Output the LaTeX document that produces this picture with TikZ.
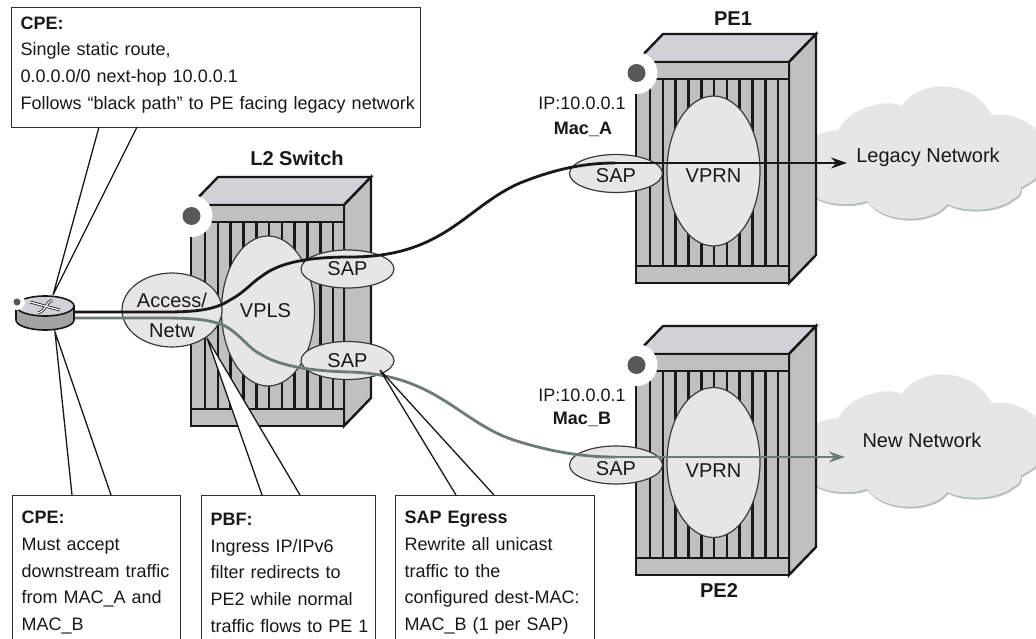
\documentclass[tikz,border=0pt]{standalone}
\usepackage{fontspec}
\setmainfont{Liberation Sans}
\usepackage{tikz}
\usetikzlibrary{shapes.geometric,arrows.meta}

\definecolor{inkc}{HTML}{1A1718}
\definecolor{greenpath}{HTML}{6D7B77}
\definecolor{topc}{HTML}{D2D2D6}
\definecolor{sidec}{HTML}{C0C0C0}
\definecolor{ovalc}{HTML}{E6E6E6}
\definecolor{dotc}{HTML}{58585A}
\definecolor{cloudrim}{HTML}{B8C0BC}

\tikzset{
    svc/.style={ellipse,draw=inkc!85,fill=ovalc,line width=1.2pt,inner sep=0pt,text=inkc,font=\fontsize{20}{30}\selectfont,align=center},
    sap/.style={svc,minimum width=93,minimum height=38},
    big/.style={svc,minimum width=93,minimum height=150},
    title/.style={text=inkc,font=\fontsize{20}{24}\selectfont\bfseries,inner sep=0pt},
    addr/.style={text=inkc,font=\fontsize{18}{22}\selectfont,inner sep=0pt},
    netname/.style={inner sep=0pt,text=inkc,font=\fontsize{20}{24}\selectfont},
    notebox/.style={draw=inkc!90,line width=1.3pt,fill=white,anchor=north west,inner sep=0pt,text=inkc,font=\fontsize{18}{26.7}\selectfont,
        execute at begin node={\leftskip=9pt\rightskip=0pt plus 1fill\parindent=0pt\hyphenpenalty=10000}},
    chassis/.pic={
        \draw[inkc,line width=2.4pt,fill=topc] (0,0) -- (27,-28) -- (180,-28) -- (153,0) -- cycle;
        \draw[inkc,line width=2.4pt,fill=sidec] (153,0) -- (180,-28) -- (180,193) -- (153,221) -- cycle;
        \draw[inkc,line width=2.4pt,fill=sidec] (0,0) rectangle (153,221);
        \foreach \i in {0,...,10}
            \draw[inkc,line width=2.6pt] ({14+12.8*\i},17) -- ({14+12.8*\i},204);
        \draw[inkc,line width=2.4pt] (0,17) -- (153,17);
        \draw[inkc,line width=2.4pt] (0,204) -- (153,204);
        \fill[white] (0.5,11) circle (21);
        \fill[dotc] (0.5,11) circle (9);
    },
    netcloud/.pic={
        \path[fill=#1,draw=#1,line width=1.2pt] (816,136) .. controls (823,133) and (831,131) .. (839,131)
            .. controls (845,112) and (885,97) .. (902,107)
            .. controls (920,78) and (975,80) .. (991,116)
            .. controls (1010,112) and (1032,122) .. (1045,140)
            .. controls (1050,160) and (1045,175) .. (1020,187)
            .. controls (1022,195) and (1013,198) .. (1013,198)
            .. controls (1000,210) and (965,213) .. (947,203)
            .. controls (935,222) and (885,225) .. (867,200)
            .. controls (855,205) and (830,205) .. (816,197) -- cycle;
    },
}

% white lead from a note box to what it points at
\newcommand{\notelead}[4]{
    \fill[white] (#1) -- (#2) -- (#3) -- ([yshift=#4]#3) -- ([yshift=#4]#1) -- cycle;
    \draw[inkc,line width=1.3pt] (#1) -- (#2) -- (#3);
}
% label set lower than the middle of its oval
\newcommand{\lowered}[2]{\raisebox{\dimexpr-7pt-#1pt\relax}[0pt][0pt]{#2}}

\begin{document}
\begin{tikzpicture}[x=1pt,y=-1pt]
    \clip (0,0) rectangle (1036,639);
    \fill[white] (0,0) rectangle (1036,639);

    % clouds
    \pic at (1,2) {netcloud=cloudrim};
    \pic at (0,0) {netcloud=ovalc};
    \pic at (1,290) {netcloud=cloudrim};
    \pic at (0,288) {netcloud=ovalc};
    \node[netname] (legacy) at (928,157) {Legacy Network};
    \node[netname] (newnet) at (922,440) {New Network};

    % chassis
    \pic at (191,205) {chassis};
    \pic at (636,62) {chassis};
    \pic at (636,354) {chassis};

    \node[title] (l2sw) at (297,158) {L2 Switch};
    \node[title] (pe1) at (733,19) {PE1};
    \node[title] (pe2) at (719,591) {PE2};
    \node[addr] (ipa) at (582,103) {IP:10.0.0.1};
    \node[addr,font=\fontsize{18}{22}\selectfont\bfseries] (maca) at (583,129) {Mac\_A};
    \node[addr] (ipb) at (582,395) {IP:10.0.0.1};
    \node[addr,font=\fontsize{18}{22}\selectfont\bfseries] (macb) at (582,419) {Mac\_B};

    % service ovals
    \node[big] (vpls) at (268,311) {\hspace{-5pt}VPLS};
    \node[svc,minimum width=100,minimum height=74] (acc) at (172,310) {\raisebox{-12pt}[0pt][0pt]{\begin{tabular}{@{}c@{}}Access/\\Netw\end{tabular}}};
    \node[sap] (sapa) at (347.5,269) {SAP};
    \node[sap] (sapb) at (347.5,360.5) {SAP};
    \node[sap] (sapc) at (616,173.5) {\lowered{2.5}{SAP}};
    \node[big] (vprna) at (713.5,171) {\lowered{5}{VPRN}};
    \node[sap] (sapd) at (616,465) {\lowered{3}{SAP}};
    \node[big] (vprnb) at (713.5,462.5) {\lowered{8}{VPRN}};

    % paths out of the router
    \coordinate (rta) at (75,312);
    \coordinate (rtb) at (75,318);
    \coordinate (tipa) at (847,163);
    \coordinate (tipb) at (845,457);
    \draw[inkc,line width=2.8pt] (rta) -- (165,312) .. controls (195,312) and (215,310) .. (230,300)
        .. controls (245,292) and (250,284) .. (262,276) .. controls (280,262) and (310,257) .. (350,257)
        .. controls (445,257) and (465,207) .. (520,183) .. controls (550,171) and (580,163) .. (615,163);
    \draw[inkc,line width=2pt,-{Stealth[length=16pt,width=11pt]}] (612,163) -- (tipa);
    \draw[greenpath,line width=2.8pt] (rtb) -- (160,318) .. controls (190,318) and (210,319) .. (225,326)
        .. controls (240,334) and (250,350) .. (262,355) .. controls (280,366) and (310,371) .. (350,372)
        .. controls (440,375) and (460,425) .. (520,442) .. controls (550,451) and (580,457) .. (615,457);
    \draw[greenpath,line width=2pt,-{Stealth[length=16pt,width=11pt]}] (612,457) -- (tipb);

    % notes
    \node[notebox,text width=409,minimum height=120] (notetop) at (11,7) {\textbf{CPE:}\\Single static route,\\0.0.0.0/0 next-hop 10.0.0.1\\Follows “black path” to PE facing legacy network\par\vspace{6pt}};
    \node[notebox,text width=168,minimum height=150] (notecpe) at (12,495) {\textbf{CPE:}\\Must accept\\downstream traffic\\from MAC\_A and\\MAC\_B\par\vspace{-4pt}};
    \node[notebox,text width=174,minimum height=150] (notepbf) at (201,495) {\textbf{PBF:}\\Ingress IP/IPv6\\filter redirects to\\PE2 while normal\\traffic flows to PE 1\par\vspace{-4pt}};
    \node[notebox,text width=199,minimum height=150] (notesap) at (395,495) {\textbf{SAP Egress}\\Rewrite all unicast\\traffic to the\\configured dest-MAC:\\MAC\_B (1 per SAP)\par\vspace{-4pt}};

    \coordinate (rttop) at (53,295);
    \coordinate (rtbot) at (55,332);
    \coordinate (pbftip) at (207,338);
    \coordinate (saptip) at (380,370);
    \coordinate (ta) at (99,127);
    \coordinate (tb) at (137,127);
    \coordinate (ca) at (72,495);
    \coordinate (cb) at (111,495);
    \coordinate (pa) at (262,495);
    \coordinate (pb) at (300,495);
    \coordinate (sa) at (456,495);
    \coordinate (sb) at (494,495);
    \notelead{ta}{rttop}{tb}{-1.2}
    \notelead{ca}{rtbot}{cb}{1.2}
    \notelead{pa}{pbftip}{pb}{1.2}
    \notelead{sa}{saptip}{sb}{1.2}

    % router
    \draw[inkc,line width=1.6pt,fill=sidec!85!black] (16,306) -- (16,320) arc[start angle=180,end angle=0,x radius=29,y radius=10] -- (74,306) -- cycle;
    \draw[inkc,line width=1.6pt,fill=topc] (45,306) ellipse [x radius=29,y radius=10];
    \fill[white] (17,302) circle (8);
    \fill[dotc] (17,302) circle (3.5);
    \draw[inkc,line width=2.8pt] (30,302) -- (60,310);
    \draw[inkc,line width=2.8pt] (52,300) .. controls (46,302) and (47,310) .. (38,313);
    \draw[white,line width=1.2pt] (30,302) -- (60,310);
    \draw[white,line width=1.2pt] (52,300) .. controls (46,302) and (47,310) .. (38,313);
\end{tikzpicture}
\end{document}
